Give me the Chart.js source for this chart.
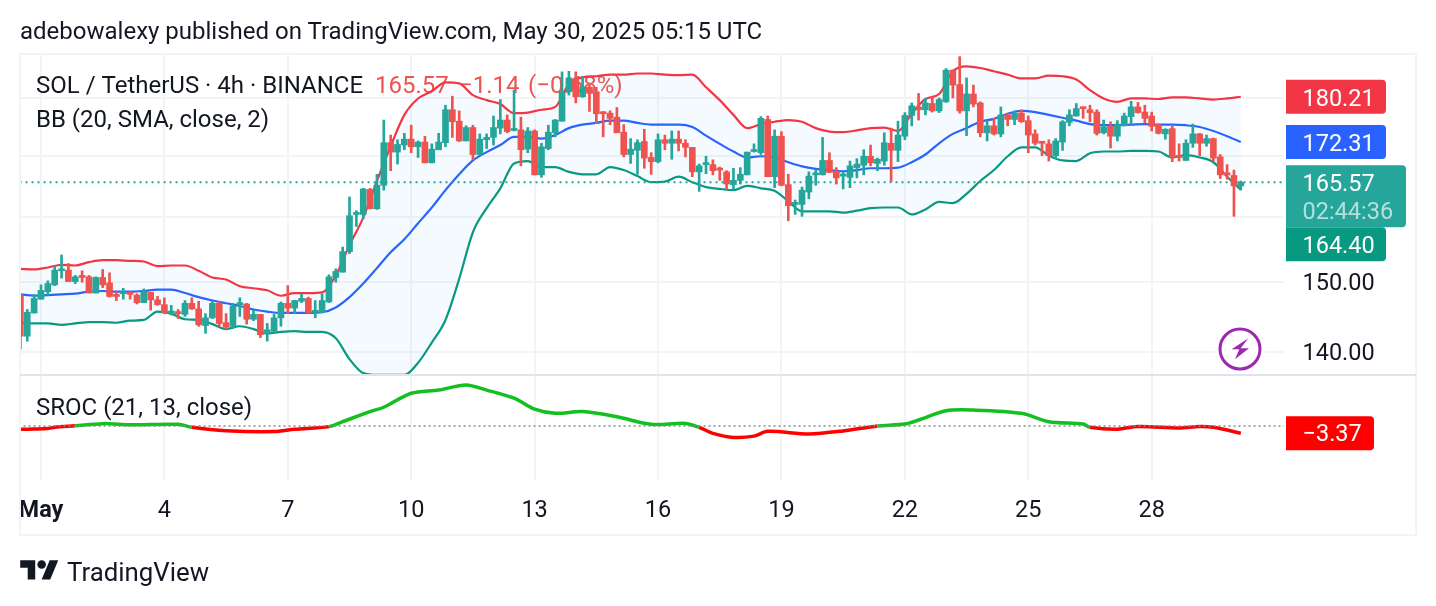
<!DOCTYPE html>
<html>
<head>
<meta charset="utf-8">
<title>SOL / TetherUS</title>
<script src="https://cdn.jsdelivr.net/npm/chart.js@4/dist/chart.umd.min.js"></script>
<style>
  html, body { margin: 0; padding: 0; background: #fff; overflow: hidden; }
  body { width: 1436px; height: 606px; position: relative; font-family: Roboto, sans-serif; color: #131722; }
  #chart { position: absolute; left: 0; top: 0; }
  #published { position: absolute; left: 20px; top: 16px; font-size: 24px; line-height: 30px; white-space: nowrap; }
  #brand { position: absolute; left: 67px; top: 556px; font-size: 25.8px; line-height: 32px; white-space: nowrap; }
  #logo { position: absolute; left: 20px; top: 556px; }
  #bolt { position: absolute; left: 1214px; top: 323px; }
</style>
</head>
<body>
<canvas id="chart" width="1436" height="606"></canvas>
<div id="published">adebowalexy published on TradingView.com, May 30, 2025 05:15 UTC</div>
<svg id="logo" width="39" height="30" viewBox="0 0 36 28" fill="#131722">
  <path d="M14 22H7V11H0V4h14v18zM28 22h-8l7.5-18h8L28 22z"></path>
  <circle cx="20" cy="8" r="4"></circle>
</svg>
<div id="brand">TradingView</div>
<svg id="bolt" width="52" height="52" viewBox="0 0 52 52">
  <circle cx="26" cy="26" r="25" fill="#fff"></circle>
  <circle cx="26" cy="26" r="20" fill="#fff" stroke="#9c27b0" stroke-width="3"></circle>
  <path d="M34.3 15.3 L17.7 26.3 L25.3 26.3 L21 36.3 L35 25.3 L26.7 25.3 Z" fill="#9c27b0"></path>
</svg>

<script>
// 4h candles, bar 0 is the May 1 00:00 candle, first bar is -3
const firstBar = -3;

const opens = [
  148.1,142.2,145.5,147.5,148.6,149.6,151.7,151.8,150.1,151.0,
  150.8,148.4,150.7,149.9,148.2,148.3,148.5,148.1,147.0,148.5,
  147.4,146.7,145.5,145.7,145.3,146.9,146.1,143.7,144.8,146.9,
  144.1,143.6,146.7,146.8,144.6,145.3,142.5,142.9,144.8,146.9,
  146.2,147.2,147.6,145.6,145.6,147.1,150.7,151.5,154.6,160.4,
  160.4,164.4,161.3,165.1,172.2,170.6,171.8,172.8,171.5,172.3,
  168.8,171.0,172.2,177.9,175.9,172.5,174.8,170.2,172.7,173.1,
  174.7,176.1,174.3,174.4,171.1,174.2,166.8,171.2,173.9,175.9,
  181.1,183.5,180.2,181.9,181.1,177.4,177.3,176.6,174.0,170.2,
  170.9,172.4,169.7,169.0,172.7,172.1,172.8,172.1,171.4,167.3,
  168.5,168.5,167.8,167.3,165.2,165.9,166.8,170.7,170.5,176.2,
  166.5,173.3,165.2,162.0,162.0,164.0,166.8,166.8,169.2,167.4,
  166.6,166.4,168.0,168.4,169.9,168.7,169.1,172.1,170.9,173.3,
  176.9,178.4,177.9,179.0,177.7,179.3,185.0,182.4,177.7,180.7,
  179.1,173.9,175.1,173.7,177.0,176.2,177.3,176.0,173.7,172.3,
  172.0,170.0,172.3,175.7,176.8,178.3,177.9,177.5,173.9,175.0,
  173.3,175.1,176.7,178.4,177.5,176.8,175.3,173.7,174.6,169.9,
  169.2,172.1,173.7,172.1,172.9,169.8,166.9,166.7,165.0
];
const highs = [
  148.2,146.0,148.2,149.6,150.2,152.5,154.1,152.8,151.0,151.7,
  151.0,150.8,151.9,151.4,148.6,149.1,148.6,148.3,149.0,148.5,
  147.9,147.7,146.6,146.0,147.3,147.7,147.2,145.4,147.2,147.1,
  145.4,146.9,147.7,146.9,145.9,145.3,144.0,145.3,147.1,149.5,
  147.3,148.3,147.8,147.3,148.3,151.1,152.0,155.3,163.2,161.0,
  164.6,164.6,166.9,176.1,173.5,172.7,173.8,175.2,172.5,173.3,
  172.0,173.8,178.7,180.3,177.7,175.1,175.2,173.7,173.7,176.8,
  179.7,177.0,181.4,176.6,174.8,174.4,172.1,175.2,176.2,184.7,
  184.8,184.7,183.9,182.3,181.9,177.6,177.7,178.3,175.3,172.9,
  172.7,174.5,170.5,173.7,173.5,174.2,174.2,172.7,171.4,168.6,
  169.9,169.3,168.1,167.5,167.9,168.0,170.6,172.0,176.7,176.8,
  174.4,174.1,166.9,162.7,164.8,167.3,167.6,173.1,170.5,168.0,
  167.3,169.1,169.5,171.0,171.8,169.6,173.9,174.7,175.9,177.4,
  179.1,180.8,179.9,180.2,180.0,185.3,185.1,187.5,183.6,182.3,
  179.3,176.0,176.4,178.4,177.3,177.7,177.9,176.8,174.4,172.4,
  172.7,172.9,176.0,177.9,179.0,178.3,178.7,177.9,176.1,175.8,
  176.0,177.3,179.4,179.2,178.7,177.5,175.4,174.6,175.0,172.0,
  172.7,175.4,173.8,173.5,173.0,170.2,168.5,167.6,165.8
];
const lows = [
  140.4,141.5,145.5,147.5,148.1,149.5,150.6,150.1,149.8,150.0,
  148.4,148.4,149.2,147.8,147.3,147.5,147.5,146.8,147.0,145.9,
  146.6,145.4,145.2,144.7,145.0,146.0,143.6,142.6,144.7,143.6,
  143.1,143.4,145.0,143.9,144.4,142.0,141.5,142.7,143.6,145.4,
  145.4,147.0,145.5,144.8,145.5,147.0,150.0,151.5,154.3,158.5,
  159.7,161.3,161.2,164.3,167.5,168.6,171.0,170.5,169.7,168.8,
  168.8,171.0,171.5,173.1,172.4,172.5,169.3,170.1,171.2,171.8,
  173.7,173.9,174.2,168.3,170.5,166.8,166.4,171.0,173.2,175.9,
  180.5,179.1,180.1,177.6,175.5,173.2,175.3,173.9,169.8,168.7,
  166.9,167.9,166.9,168.8,171.0,169.4,170.8,169.8,166.5,164.1,
  167.0,166.8,165.9,164.4,164.4,165.3,166.8,170.6,170.2,166.5,
  164.7,165.0,159.4,160.4,160.1,162.9,165.1,166.8,167.2,165.3,
  164.5,164.7,166.3,166.8,168.3,167.5,168.4,165.7,169.0,172.7,
  175.1,176.1,177.0,177.5,177.4,179.2,180.0,177.3,173.4,178.4,
  173.2,172.5,173.5,173.2,175.1,175.3,175.7,170.5,171.8,170.0,
  169.1,169.5,170.9,175.1,176.8,176.4,175.8,173.5,173.7,171.3,
  172.5,175.1,175.4,177.3,175.6,174.2,173.7,172.8,169.0,169.1,
  169.2,171.4,170.0,171.6,169.1,166.2,166.1,160.1,164.3
];
const closes = [
  142.2,145.6,147.6,148.8,149.8,151.8,151.9,150.1,150.8,150.7,
  148.4,150.7,149.6,147.9,147.9,148.5,148.2,147.0,148.5,147.4,
  146.7,145.5,145.7,145.4,146.9,146.1,143.8,144.8,146.9,144.0,
  143.5,146.5,147.0,144.6,145.3,142.4,143.1,144.8,146.9,146.2,
  147.3,147.6,145.5,145.8,147.3,150.8,151.6,154.6,160.2,160.6,
  164.5,161.3,165.1,172.2,170.6,171.9,172.8,171.5,172.3,168.8,
  171.1,172.3,177.9,175.8,172.5,174.8,170.2,172.8,173.1,174.8,
  176.1,174.1,174.6,171.0,174.2,166.8,171.5,174.0,176.1,181.1,
  183.6,180.2,182.0,180.8,177.2,177.2,176.4,173.9,170.2,171.1,
  172.2,169.6,169.0,172.7,172.1,172.8,172.1,171.4,167.3,168.3,
  168.7,167.5,167.6,165.3,165.9,166.9,170.6,170.9,176.4,166.5,
  173.3,165.1,161.8,162.3,164.3,166.6,167.1,169.2,167.2,166.3,
  166.8,168.3,168.6,169.9,168.8,169.4,172.2,170.9,173.5,176.9,
  178.6,177.9,179.1,177.7,179.7,185.0,182.3,177.7,180.7,178.9,
  173.9,175.1,173.7,177.0,176.2,177.3,175.8,173.5,172.1,172.1,
  170.0,172.5,175.8,177.0,178.1,178.1,177.4,173.8,174.9,173.3,
  175.4,176.8,178.4,177.4,176.4,175.0,173.8,174.5,169.7,169.7,
  172.1,173.7,172.1,172.9,169.6,166.8,166.8,165.0,165.57
];

// Bollinger bands, one value every second bar starting at bar -3
const bandStep = 2;
const bbUpper = [
  152.0,151.9,152.2,152.6,152.5,153.0,153.3,153.3,153.2,153.1,
  152.4,152.5,152.5,151.7,150.7,150.4,149.4,149.1,148.8,148.0,
  148.4,148.4,148.5,151.0,155.6,159.9,165.8,171.6,177.0,179.9,
  181.2,182.8,182.6,180.5,179.6,178.9,177.3,177.4,177.9,178.4,
  182.5,183.7,183.9,184.2,184.2,184.4,184.4,184.2,184.1,184.2,
  181.9,179.6,177.0,174.7,175.4,175.8,176.1,175.8,174.7,174.1,
  174.0,174.3,174.7,174.8,174.2,177.2,179.8,180.7,184.8,185.7,
  185.4,184.8,184.2,183.5,183.5,184.0,183.9,183.3,181.4,179.9,
  179.3,179.9,179.9,179.8,180.1,180.1,179.9,179.7,179.9,180.21
];
const bbBasis = [
  148.2,148.0,148.1,148.2,148.3,148.6,148.7,148.6,148.6,148.7,
  148.9,148.9,148.4,147.8,147.3,146.9,146.5,146.0,145.7,145.5,
  145.5,145.5,145.6,146.3,147.8,149.8,152.1,154.5,156.5,159.0,
  161.5,164.3,166.9,169.2,170.6,171.8,173.2,173.2,172.9,173.5,
  174.7,175.3,175.6,176.0,176.0,175.6,175.3,175.3,175.3,174.9,
  173.4,172.0,170.7,169.7,169.9,169.7,168.9,168.2,167.8,167.6,
  167.4,167.6,167.9,167.9,168.0,168.9,170.2,172.1,173.7,174.7,
  175.8,176.3,177.2,177.7,177.5,177.0,176.5,176.0,175.4,175.2,
  175.2,175.3,175.4,175.3,175.3,175.2,174.9,174.2,173.3,172.31
];
const bbLower = [
  144.1,144.0,144.0,143.8,144.0,144.2,144.2,144.1,144.4,144.5,
  145.7,145.4,144.6,144.5,143.9,143.2,143.6,143.2,142.6,142.8,
  142.9,142.8,142.8,141.9,139.0,137.1,136.85,136.85,136.85,138.5,
  141.3,144.5,150.5,157.6,161.4,164.6,168.7,169.1,168.1,168.1,
  167.3,166.9,166.9,168.1,167.6,166.6,165.6,165.7,166.5,165.6,
  164.8,164.5,164.3,165.0,164.6,164.2,162.5,160.9,160.9,160.9,
  160.7,161.0,161.4,161.5,161.5,160.4,161.2,162.4,162.2,163.7,
  165.8,167.6,169.9,171.4,171.4,170.0,169.2,169.1,170.4,170.7,
  170.7,170.8,170.8,170.7,169.7,170.1,169.7,168.9,166.5,164.40
];

// SROC is smooth, so it only needs its turning points
const srocBars = [
  -3,-1,1,2,5,9,13,20,22,27,34,37,42,44,48,50,54,58,62,65,69,72,75,79,84,89,94,96,98,
  101,104,106,112,117,122,126,128,132,136,143,147,152,153,157,160,166,169,171,175
];
const srocValues = [
  -1.5,-1.4,-1.2,-0.6,0.1,1.1,0.6,0.8,-0.6,-2.2,-2.6,-1.5,-0.3,2.0,6.7,8.7,15.2,16.7,19.1,16.7,12.9,7.8,5.9,6.7,4.3,0.8,1.2,-0.6,-3.4,
  -5.3,-4.7,-2.5,-3.7,-2.3,0.0,0.9,2.8,7.1,7.4,5.9,2.0,0.9,-0.6,-1.5,-0.2,-0.9,-0.2,-0.6,-3.37
];

const dayBars = [0, 18, 36, 54, 72, 90, 108, 126, 144, 162];
const dayLabels = ['May', '4', '7', '10', '13', '16', '19', '22', '25', '28'];
const priceGrid = [140, 150, 160, 170, 180];
const priceTickLabels = { 140: '140.00', 150: '150.00' };

const UP = '#26a69a';
const DOWN = '#ef5350';
const INK = '#131722';
const GRID = '#f3f4f6';
const FONT = 'Roboto, sans-serif';
const LABEL_SIZE = 23.5;
const LEGEND_SIZE = 24;

const bars = closes.map((_, i) => firstBar + i);
const barColors = closes.map((c, i) => (c >= opens[i] ? UP : DOWN));
const bandPoints = vals => vals.map((y, i) => ({ x: firstBar + i * bandStep, y: y }));
const lastPrice = closes[closes.length - 1];

function flatLine(y) {
  return [{ x: firstBar - 1, y: y }, { x: 182, y: y }];
}

// legend text sits under the candles
const legendText = {
  id: 'legendText',
  beforeDatasetsDraw(chart) {
    const ctx = chart.ctx;
    ctx.save();
    ctx.font = LEGEND_SIZE + 'px ' + FONT;
    ctx.textBaseline = 'middle';
    ctx.textAlign = 'left';
    ctx.fillStyle = INK;
    ctx.fillText('SOL / TetherUS · 4h · BINANCE', 36, 87);
    ctx.fillText('BB (20, SMA, close, 2)', 36, 121);
    ctx.fillText('SROC (21, 13, close)', 36, 409);
    ctx.fillStyle = DOWN;
    ctx.fillText('165.57', 375, 87);
    ctx.fillText('−1.14', 459, 87);
    ctx.fillText('(−0.68%)', 528, 87);
    ctx.restore();
  }
};

function tag(ctx, x, top, w, h, color) {
  ctx.fillStyle = color;
  ctx.beginPath();
  ctx.roundRect(x, top, w, h, [0, 4, 4, 0]);
  ctx.fill();
}

// frame, pane divider and the price tags on the right axis
const chartFurniture = {
  id: 'chartFurniture',
  afterDraw(chart) {
    const ctx = chart.ctx;
    const y = chart.scales.y;
    const y2 = chart.scales.y2;
    const left = chart.chartArea.left;
    const right = chart.width - 20;
    const tagX = chart.chartArea.right + 2;
    ctx.save();

    ctx.strokeStyle = GRID;
    ctx.lineWidth = 2;
    ctx.strokeRect(left, chart.chartArea.top, right - left, 535 - chart.chartArea.top);

    ctx.strokeStyle = '#e0e3eb';
    ctx.beginPath();
    ctx.moveTo(left, y.bottom);
    ctx.lineTo(right, y.bottom);
    ctx.stroke();

    const textX = tagX + 16.5;
    ctx.font = LABEL_SIZE + 'px ' + FONT;
    ctx.textBaseline = 'middle';
    ctx.textAlign = 'left';

    const upperVal = bbUpper[bbUpper.length - 1];
    const basisVal = bbBasis[bbBasis.length - 1];
    const lowerVal = bbLower[bbLower.length - 1];

    const upperY = y.getPixelForValue(upperVal);
    tag(ctx, tagX, upperY - 17, 100, 34, '#f23645');
    ctx.fillStyle = '#fff';
    ctx.fillText(upperVal.toFixed(2), textX, upperY + 3);

    const basisY = y.getPixelForValue(basisVal);
    tag(ctx, tagX, basisY - 17, 100, 34, '#2962ff');
    ctx.fillStyle = '#fff';
    ctx.fillText(basisVal.toFixed(2), textX, basisY + 3);

    // the lower band tag is pushed down under the countdown tag
    const priceY = y.getPixelForValue(lastPrice);
    tag(ctx, tagX, priceY + 45, 100, 34, '#089981');
    ctx.fillStyle = '#fff';
    ctx.fillText(lowerVal.toFixed(2), textX, priceY + 62 + 3);

    tag(ctx, tagX, priceY - 17, 120, 62, UP);
    ctx.fillStyle = '#fff';
    ctx.fillText(lastPrice.toFixed(2), textX, priceY + 3);
    ctx.fillStyle = 'rgba(255,255,255,0.65)';
    ctx.fillText('02:44:36', textX, priceY + 31);

    const srocVal = srocValues[srocValues.length - 1];
    const srocY = y2.getPixelForValue(srocVal);
    tag(ctx, tagX, srocY - 17, 88, 34, '#ff0000');
    ctx.fillStyle = '#fff';
    ctx.fillText('−' + Math.abs(srocVal).toFixed(2), textX, srocY + 2);

    ctx.restore();
  }
};

const ctx = document.getElementById('chart').getContext('2d');

new Chart(ctx, {
  type: 'bar',
  data: {
    datasets: [
      {
        type: 'line',
        label: 'BB upper',
        data: bandPoints(bbUpper),
        borderColor: '#f23645',
        borderWidth: 2.2,
        cubicInterpolationMode: 'monotone',
        pointRadius: 0,
        backgroundColor: 'rgba(33,150,243,0.05)',
        fill: '+2',
        yAxisID: 'y',
        order: 5
      },
      {
        type: 'line',
        label: 'BB basis',
        data: bandPoints(bbBasis),
        borderColor: '#2962ff',
        borderWidth: 2.2,
        cubicInterpolationMode: 'monotone',
        pointRadius: 0,
        yAxisID: 'y',
        order: 5
      },
      {
        type: 'line',
        label: 'BB lower',
        data: bandPoints(bbLower),
        borderColor: '#089981',
        borderWidth: 2.2,
        cubicInterpolationMode: 'monotone',
        pointRadius: 0,
        yAxisID: 'y',
        order: 5
      },
      {
        type: 'line',
        label: 'Last price',
        data: flatLine(lastPrice),
        borderColor: UP,
        borderWidth: 2,
        borderDash: [2, 4],
        pointRadius: 0,
        yAxisID: 'y',
        order: 4
      },
      {
        type: 'bar',
        label: 'Wicks',
        data: bars.map((b, i) => ({ x: b, y: [lows[i], highs[i]] })),
        backgroundColor: barColors,
        barThickness: 2,
        grouped: false,
        yAxisID: 'y',
        order: 3
      },
      {
        type: 'bar',
        label: 'Bodies',
        data: bars.map((b, i) => ({ x: b, y: [opens[i], closes[i]] })),
        backgroundColor: barColors,
        barThickness: 6,
        minBarLength: 2,
        grouped: false,
        yAxisID: 'y',
        order: 2
      },
      {
        type: 'line',
        label: 'SROC',
        data: srocBars.map((b, i) => ({ x: b, y: srocValues[i] })),
        borderColor: '#ff0000',
        borderWidth: 3.5,
        tension: 0.3,
        pointRadius: 0,
        segment: {
          borderColor: c => (c.p0.parsed.y + c.p1.parsed.y > 0 ? '#12c01f' : '#ff0000')
        },
        yAxisID: 'y2',
        order: 1
      },
      {
        type: 'line',
        label: 'Zero',
        data: flatLine(0),
        borderColor: '#868993',
        borderWidth: 1.5,
        borderDash: [2, 3],
        pointRadius: 0,
        yAxisID: 'y2',
        order: 0
      }
    ]
  },
  options: {
    responsive: false,
    animation: false,
    events: [],
    layout: { padding: { left: 20, top: 54, right: 20, bottom: 71 } },
    plugins: { legend: { display: false }, tooltip: { enabled: false } },
    scales: {
      x: {
        type: 'linear',
        offset: false,
        min: -3.06,
        max: 181.3,
        afterBuildTicks: s => { s.ticks = dayBars.map(v => ({ value: v })); },
        afterFit: s => { s.height = 55; },
        grid: { color: GRID, lineWidth: 2, offset: false, drawTicks: false },
        border: { display: false },
        ticks: {
          autoSkip: false,
          maxRotation: 0,
          padding: 17,
          color: INK,
          font: c => ({ family: FONT, size: LABEL_SIZE, weight: c.index === 0 ? 'bold' : 'normal' }),
          callback: v => dayLabels[dayBars.indexOf(v)]
        }
      },
      y: {
        type: 'logarithmic',
        position: 'right',
        stack: 'panes',
        stackWeight: 321,
        min: 136.84,
        max: 187.99,
        afterBuildTicks: s => { s.ticks = priceGrid.map(v => ({ value: v })); },
        afterFit: s => { s.width = 132; },
        grid: { color: GRID, lineWidth: 2, drawTicks: false },
        border: { display: false },
        ticks: {
          autoSkip: false,
          padding: 18.5,
          labelOffset: 2,
          color: INK,
          font: { family: FONT, size: LABEL_SIZE },
          callback: v => priceTickLabels[v] || ''
        }
      },
      y2: {
        type: 'linear',
        position: 'right',
        stack: 'panes',
        stackWeight: 105,
        min: -25.1,
        max: 23.7,
        afterFit: s => { s.width = 132; },
        grid: { display: false, drawTicks: false },
        border: { display: false },
        ticks: { display: false }
      }
    }
  },
  plugins: [legendText, chartFurniture]
});
</script>
</body>
</html>
